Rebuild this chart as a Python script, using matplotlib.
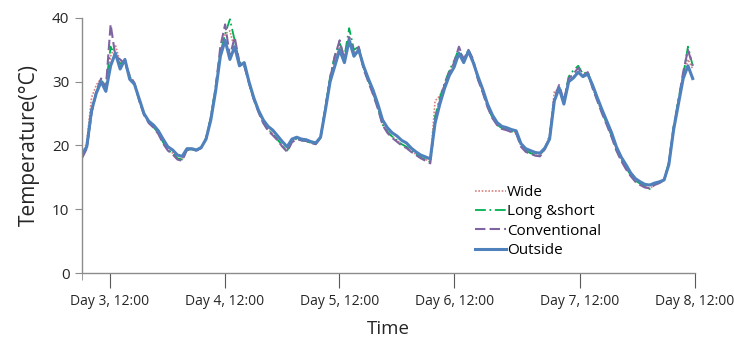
import matplotlib
matplotlib.use("Agg")
import matplotlib.pyplot as plt
from matplotlib.ticker import FixedLocator

plt.rcParams['font.family'] = ['Open Sans', 'DejaVu Sans']

# hours since start of record (one reading per hour)
hours = list(range(129))

outside = [18.6, 19.8, 25.5, 28.2, 30.0, 28.5, 32.5, 34.5, 32.0, 33.5, 30.4, 29.6, 27.3, 25.0, 23.8, 23.2, 22.3, 21.0, 19.8, 19.3, 18.5, 18.3, 19.5, 19.5,
           19.3, 19.7, 21.0, 24.0, 28.5, 34.0, 36.5, 33.5, 35.5, 32.5, 33.0, 30.0, 27.5, 25.5, 24.0, 23.0, 22.4, 21.5, 20.6, 19.8, 21.0, 21.3, 21.0, 20.9,
           20.6, 20.4, 21.3, 25.5, 30.0, 32.5, 35.0, 33.0, 36.5, 34.0, 35.0, 32.5, 30.5, 28.7, 26.5, 24.0, 22.8, 22.0, 21.5, 20.8, 20.4, 19.6, 19.0, 18.5,
           18.2, 17.9, 23.5, 26.5, 29.0, 31.0, 32.3, 34.5, 33.0, 34.8, 33.0, 30.8, 28.8, 26.5, 24.8, 23.6, 23.0, 22.8, 22.5, 22.3, 20.3, 19.5, 19.2, 18.9,
           18.8, 19.6, 21.0, 27.0, 29.0, 26.5, 30.0, 30.6, 31.5, 30.8, 31.2, 29.5, 27.5, 25.6, 23.8, 22.0, 19.8, 18.2, 17.0, 15.7, 14.8, 14.3, 13.9, 13.8,
           14.1, 14.3, 14.6, 17.0, 22.5, 26.5, 30.5, 32.5, 30.5]

conventional = [18.0, 19.5, 25.0, 28.5, 30.5, 29.0, 39.0, 34.0, 33.5, 32.8, 31.0, 29.8, 27.0, 24.8, 23.5, 22.8, 21.8, 20.3, 19.2, 18.6, 17.8, 17.6, 19.3, 19.4,
                19.2, 19.6, 21.0, 24.2, 29.0, 35.5, 39.0, 34.0, 37.0, 33.0, 32.5, 29.8, 27.2, 25.2, 23.5, 22.3, 21.6, 20.8, 19.8, 19.0, 20.5, 21.0, 20.8, 20.7,
                20.4, 20.2, 21.2, 25.8, 30.5, 34.0, 36.5, 33.5, 37.0, 34.5, 35.5, 32.0, 30.0, 28.0, 25.8, 23.2, 22.0, 21.2, 20.6, 20.0, 19.6, 19.0, 18.5, 18.0,
                17.6, 17.2, 24.0, 27.0, 29.5, 31.5, 33.0, 35.5, 33.5, 35.0, 33.5, 30.3, 28.3, 26.0, 24.3, 23.2, 22.6, 22.4, 22.1, 21.9, 19.8, 19.0, 18.7, 18.4,
                18.3, 19.4, 21.0, 27.5, 29.5, 27.0, 30.5, 31.2, 32.2, 31.0, 31.5, 29.0, 27.0, 25.0, 23.2, 21.3, 19.2, 17.6, 16.3, 15.2, 14.3, 13.8, 13.4, 13.3,
                13.8, 14.1, 14.5, 17.2, 22.8, 27.0, 31.5, 35.0, 32.5]

long_short = [18.3, 19.7, 25.3, 28.4, 30.2, 29.3, 35.5, 34.0, 32.8, 33.2, 30.8, 29.7, 27.1, 24.9, 23.6, 22.9, 21.9, 20.5, 19.3, 18.8, 18.0, 17.8, 19.3, 19.4,
              19.2, 19.6, 21.2, 24.5, 29.2, 34.5, 37.5, 39.8, 36.5, 33.0, 33.0, 29.8, 27.3, 25.3, 23.6, 22.5, 21.8, 20.9, 20.0, 19.2, 20.7, 21.1, 20.8, 20.7,
              20.4, 20.2, 21.2, 26.0, 30.8, 34.2, 36.0, 34.0, 38.4, 35.0, 35.5, 32.2, 30.2, 28.2, 26.0, 23.3, 22.2, 21.4, 20.8, 20.2, 19.8, 19.2, 18.6, 18.1,
              17.8, 17.4, 24.5, 27.5, 29.8, 31.8, 33.3, 35.2, 33.5, 35.0, 33.3, 30.4, 28.4, 26.1, 24.4, 23.3, 22.7, 22.5, 22.2, 22.0, 20.0, 19.2, 18.8, 18.5,
              18.4, 19.5, 21.5, 27.0, 29.2, 27.0, 30.8, 31.8, 32.5, 31.2, 31.6, 29.2, 27.2, 25.2, 23.4, 21.5, 19.4, 17.8, 16.5, 15.4, 14.5, 14.0, 13.6, 13.2,
              13.9, 14.2, 14.5, 17.4, 23.0, 27.2, 31.0, 35.5, 32.5]

wide = [18.4, 20.5, 27.5, 29.5, 30.5, 29.0, 34.0, 35.8, 33.0, 33.5, 30.6, 29.7, 27.2, 24.9, 23.6, 23.0, 22.0, 20.6, 19.3, 18.8, 18.0, 17.9, 19.3, 19.4,
        19.2, 19.6, 21.2, 24.5, 29.0, 34.0, 37.5, 38.0, 35.0, 33.0, 32.5, 29.8, 27.3, 25.3, 23.6, 22.5, 21.8, 20.9, 20.0, 19.3, 20.6, 21.1, 20.8, 20.7,
        20.4, 20.2, 21.3, 26.0, 30.6, 33.5, 35.5, 33.5, 37.0, 34.5, 35.0, 32.2, 30.2, 28.2, 26.0, 23.3, 22.2, 21.4, 20.8, 20.2, 19.8, 19.2, 18.6, 18.1,
        17.8, 17.5, 27.0, 27.8, 29.6, 31.3, 32.8, 34.0, 33.5, 34.5, 33.0, 30.4, 28.4, 26.1, 24.4, 23.3, 22.7, 22.5, 22.2, 22.0, 20.0, 19.2, 18.8, 18.5,
        18.4, 19.5, 21.5, 28.5, 28.8, 27.0, 30.2, 30.8, 31.6, 31.0, 31.2, 29.2, 27.2, 25.2, 23.4, 21.5, 19.4, 17.8, 16.5, 15.4, 14.5, 14.0, 13.6, 13.2,
        13.9, 14.2, 14.5, 17.4, 22.5, 26.8, 30.8, 33.5, 32.0]

tick_hours = [5.87, 29.98, 53.9, 78.0, 104.4, 128.5]
tick_labels = ["Day 3, 12:00", "Day 4, 12:00", "Day 5, 12:00",
               "Day 6, 12:00", "Day 7, 12:00", "Day 8, 12:00"]

fig = plt.figure(figsize=(7.34, 3.48), dpi=100)
ax = fig.add_axes([0.1117, 0.2155, 0.8353, 0.7328])

ax.plot(hours, wide, color='#D9827F', linestyle=(0, (1, 1)), linewidth=1.2, label='Wide')
ax.plot(hours, long_short, color='#00B050', linestyle=(0, (6, 2, 1, 2)), linewidth=1.3, label='Long &short')
ax.plot(hours, conventional, color='#8064A2', linestyle=(0, (5, 2)), linewidth=1.5, label='Conventional')
ax.plot(hours, outside, color='#4F81BD', linestyle='-', linewidth=2.2, label='Outside')

ax.set_xlim(0, 128.5)
ax.set_ylim(0, 40)
ax.set_yticks([0, 10, 20, 30, 40])
ax.xaxis.set_major_locator(FixedLocator(tick_hours))
ax.set_xticklabels(tick_labels)
ax.xaxis.set_minor_locator(FixedLocator([0]))

for side in ['top', 'right']:
    ax.spines[side].set_visible(False)
for side in ['left', 'bottom']:
    ax.spines[side].set_color('#8C8C8C')
    ax.spines[side].set_linewidth(1.0)

ax.tick_params(axis='y', direction='out', length=5, color='#8C8C8C', labelsize=11, labelcolor='#262626', pad=4)
ax.tick_params(axis='x', which='major', direction='out', length=11, color='#595959', labelsize=10, labelcolor='#262626', pad=4)
ax.tick_params(axis='x', which='minor', direction='out', length=5, color='#8C8C8C')

ax.set_ylabel("Temperature(°C)", fontsize=15, color='#262626', labelpad=9)
ax.set_xlabel("Time", fontsize=13.5, color='#262626', labelpad=8)

ax.legend(loc='upper left', bbox_to_anchor=(0.641, 0.345), frameon=False, fontsize=11,
          handlelength=2.0, handletextpad=0.1, labelspacing=0.28, borderaxespad=0,
          borderpad=0)

fig.savefig("out.png", dpi=100)
